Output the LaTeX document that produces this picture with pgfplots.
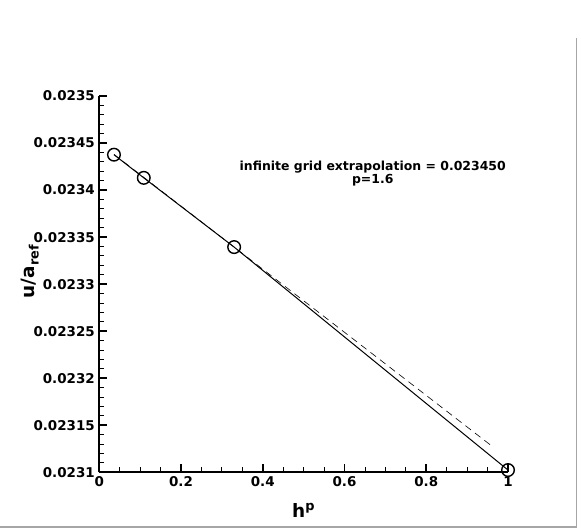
\documentclass[border=0pt]{standalone}
\usepackage{pgfplots}
\pgfplotsset{compat=1.18}
\usepackage{fontspec}
\setmainfont{DejaVu Sans}
\begin{document}
\begin{tikzpicture}
\useasboundingbox (0,0) rectangle (581bp,529bp);
\draw[gray!70, line width=1.2bp] (0,2bp) -- (576.5bp,2bp) -- (576.5bp,491bp);
\begin{axis}[
  at={(99.3bp,56.7bp)}, anchor=south west,
  scale only axis, width=408.7bp, height=376.3bp,
  xmin=0, xmax=1, ymin=0.0231, ymax=0.0235,
  axis x line*=bottom, axis y line*=left,
  axis line style={line width=1.8bp, -},
  scaled y ticks=false, scaled x ticks=false,
  xtick={0,0.2,0.4,0.6,0.8,1},
  xticklabels={0,0.2,0.4,0.6,0.8,1},
  ytick={0.0231,0.02315,0.0232,0.02325,0.0233,0.02335,0.0234,0.02345,0.0235},
  yticklabels={0.0231,0.02315,0.0232,0.02325,0.0233,0.02335,0.0234,0.02345,0.0235},
  minor x tick num=3, minor y tick num=4,
  tick align=inside,
  major tick length=8bp, minor tick length=5bp,
  major tick style={line width=1.6bp, black},
  minor tick style={line width=0.9bp, black},
  tick label style={font=\fontsize{13.5}{15}\selectfont\bfseries},
  /pgf/number format/assume math mode=true,
  xticklabel style={yshift=-1bp},
  yticklabel style={xshift=-1bp},
  clip=false,
]
\addplot[black, dashed, dash pattern=on 7bp off 5bp, line width=0.6bp] coordinates {
  (0.0359, 0.0234380) (0.956, 0.0231294)
};
\addplot[black, line width=1bp, mark=o, mark size=6.3bp, mark options={solid, line width=1.4bp}] coordinates {
  (0.0359, 0.0234376)
  (0.1088, 0.0234130)
  (0.3299, 0.0233394)
  (1.0,    0.0231024)
};
\node[align=center, font=\fontsize{12.5}{13.5}\selectfont\bfseries] at (axis cs:0.669,0.0234173) {infinite grid extrapolation = 0.023450\\p=1.6};
\end{axis}
\node[font=\fontsize{18.5}{22}\selectfont\bfseries] at (303.6bp,19bp) {h\textsuperscript{p}};
\node[rotate=90, font=\fontsize{18.5}{22}\selectfont\bfseries] at (30bp,257.5bp) {u/a\textsubscript{ref}};
\end{tikzpicture}
\end{document}
